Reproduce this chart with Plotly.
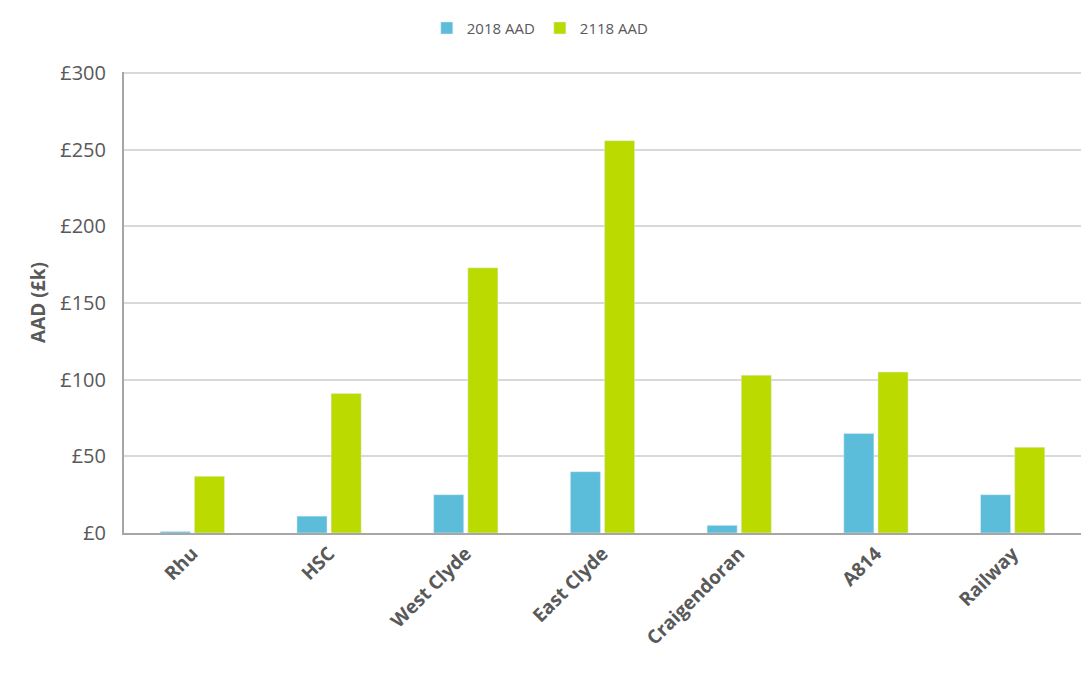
import plotly.graph_objects as go

categories = ["Rhu", "HSC", "West Clyde", "East Clyde", "Craigendoran", "A814", "Railway"]
aad_2018 = [1, 11, 25, 40, 5, 65, 25]
aad_2118 = [37, 91, 173, 256, 103, 105, 56]
y_tick_vals = [0, 50, 100, 150, 200, 250, 300]
y_tick_text = ["£0", "£50", "£100", "£150", "£200", "£250", "£300"]

fig = go.Figure()
fig.add_trace(go.Bar(name="2018 AAD", x=categories, y=aad_2018, marker_color="#5BBDD9"))
fig.add_trace(go.Bar(name="2118 AAD", x=categories, y=aad_2118, marker_color="#BBDA00"))

fig.update_layout(
    width=1083, height=691,
    margin=dict(l=124, r=2, t=72, b=158),
    paper_bgcolor="white", plot_bgcolor="white",
    barmode="group", bargap=0.5, bargroupgap=0.12,
    font=dict(family="Open Sans, Liberation Sans, sans-serif", color="#595959"),
    legend=dict(orientation="h", x=0.435, xanchor="center", y=1.095, yanchor="middle",
                font=dict(size=15, color="#595959"), itemwidth=30, traceorder="normal"),
    showlegend=True,
)
fig.update_xaxes(
    tickangle=-45, tickfont=dict(size=19, color="#595959", family="Open Sans, sans-serif", weight="bold"),
    showline=True, linecolor="#A6A6A6", linewidth=2, ticks="", showgrid=False,
)
fig.update_yaxes(
    range=[0, 300.8], tickvals=y_tick_vals, ticktext=y_tick_text,
    tickfont=dict(size=20, color="#595959"),
    showline=True, linecolor="#A6A6A6", linewidth=2,
    showgrid=True, gridcolor="#D9D9D9", gridwidth=1.5, zeroline=False,
    ticklabelstandoff=12,
    title=dict(text="AAD (£k)", font=dict(size=19, color="#595959", weight="bold"), standoff=10),
)
fig.write_html("out.html")
